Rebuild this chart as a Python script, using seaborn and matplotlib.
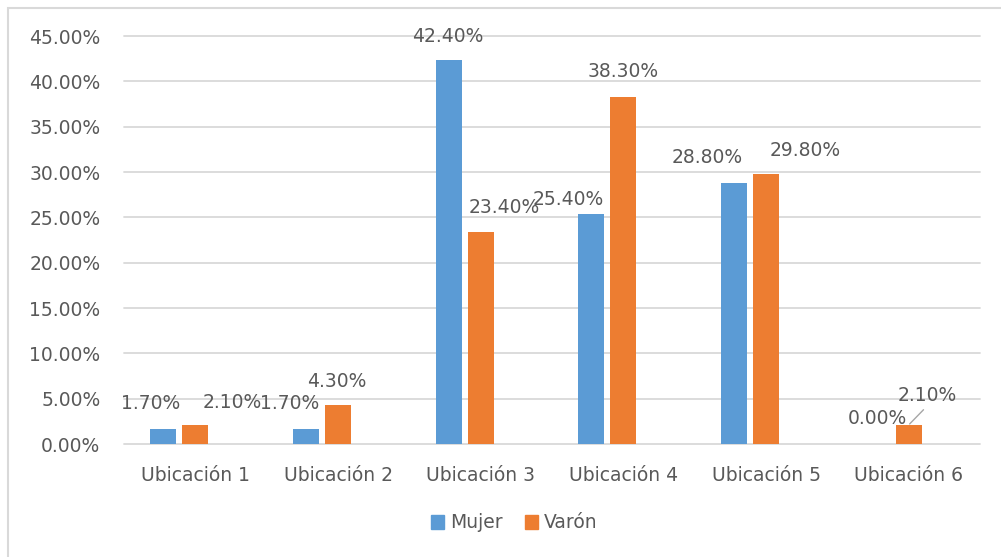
import matplotlib
matplotlib.use("Agg")
import matplotlib.pyplot as plt
import matplotlib.patches as mpatches
import seaborn as sns
import pandas as pd
import numpy as np

categories = ["Ubicación 1", "Ubicación 2", "Ubicación 3", "Ubicación 4", "Ubicación 5", "Ubicación 6"]
mujer = [1.70, 1.70, 42.40, 25.40, 28.80, 0.00]
varon = [2.10, 4.30, 23.40, 38.30, 29.80, 2.10]
series_names = ["Mujer", "Varón"]
yticks = [0, 5, 10, 15, 20, 25, 30, 35, 40, 45]

# label offsets (pixels) relative to top-centre of each bar
mujer_offsets = [(-13, 25), (-16, 25), (-1, 23), (-23, 14), (-27, 25), (1, 25)]
varon_offsets = [(37, 22), (-1, 24), (24, 24), (0, 25), (39, 23), (19, 29)]

BLUE = "#5B9BD5"
ORANGE = "#ED7D31"
TEXT = "#595959"
GRID = "#D9D9D9"
FS = 13.5

sns.set_theme(style="white")
plt.rcParams["font.family"] = ["DejaVu Sans"]

rows = []
for c, m, v in zip(categories, mujer, varon):
    rows.append((c, series_names[0], m))
    rows.append((c, series_names[1], v))
    rows.append((c, "_blank", 0.0))
df = pd.DataFrame(rows, columns=["cat", "serie", "valor"])

fig = plt.figure(figsize=(10.01, 5.57), dpi=100)
ax = fig.add_axes([124 / 1001, 1 - 444 / 557, (980 - 124) / 1001, (444 - 36) / 557])

sns.barplot(data=df, x="cat", y="valor", hue="serie",
            hue_order=[series_names[0], series_names[1], "_blank"],
            palette=[BLUE, ORANGE, (1, 1, 1, 0)],
            order=categories, width=0.673, gap=0.1875, linewidth=0,
            legend=False, ax=ax, errorbar=None, saturation=1)

ax.set_ylim(0, 45)
ax.set_xlim(-0.5, len(categories) - 0.5)
ax.set_yticks(yticks)
ax.set_yticklabels([f"{t:.2f}%" for t in yticks])
ax.yaxis.grid(True, color=GRID, linewidth=1.3)
for gl in ax.get_ygridlines():
    gl.set_clip_on(False)
ax.set_axisbelow(True)
for s in ax.spines.values():
    s.set_visible(False)
ax.set_xlabel("")
ax.set_ylabel("")
ax.tick_params(axis="y", length=0, pad=17, labelsize=FS, labelcolor=TEXT)
ax.tick_params(axis="x", length=0, pad=16, labelsize=FS, labelcolor=TEXT)

for k, (cont, offs, vals) in enumerate(zip(ax.containers[:2], [mujer_offsets, varon_offsets], [mujer, varon])):
    for i, (p, (dx, dy), v) in enumerate(zip(cont.patches, offs, vals)):
        cx = p.get_x() + p.get_width() / 2
        h = p.get_height()
        if k == 1 and i == len(vals) - 1:
            ax.annotate(f"{v:.2f}%", xy=(cx, h), xytext=(dx, dy), textcoords="offset pixels",
                        ha="center", va="center", fontsize=FS, color=TEXT, annotation_clip=False,
                        arrowprops=dict(arrowstyle="-", color="#A6A6A6", lw=1,
                                        relpos=(0.5, 0.0), shrinkA=1, shrinkB=1))
        else:
            ax.annotate(f"{v:.2f}%", xy=(cx, h), xytext=(dx, dy), textcoords="offset pixels",
                        ha="center", va="center", fontsize=FS, color=TEXT, annotation_clip=False)

handles = [mpatches.Patch(color=BLUE, label=series_names[0]),
           mpatches.Patch(color=ORANGE, label=series_names[1])]
fig.legend(handles=handles, loc="center", bbox_to_anchor=(514 / 1001, 1 - 523 / 557),
           ncol=2, frameon=False, fontsize=FS, labelcolor=TEXT,
           handlelength=0.7, handleheight=0.7, handletextpad=0.3, columnspacing=1.2)

border = mpatches.Rectangle((8 / 1001, -0.1), 1.2, 1.1 - 8 / 557, transform=fig.transFigure,
                            fill=False, edgecolor=GRID, linewidth=1.5)
fig.patches.append(border)

fig.savefig("out.png", dpi=100)
